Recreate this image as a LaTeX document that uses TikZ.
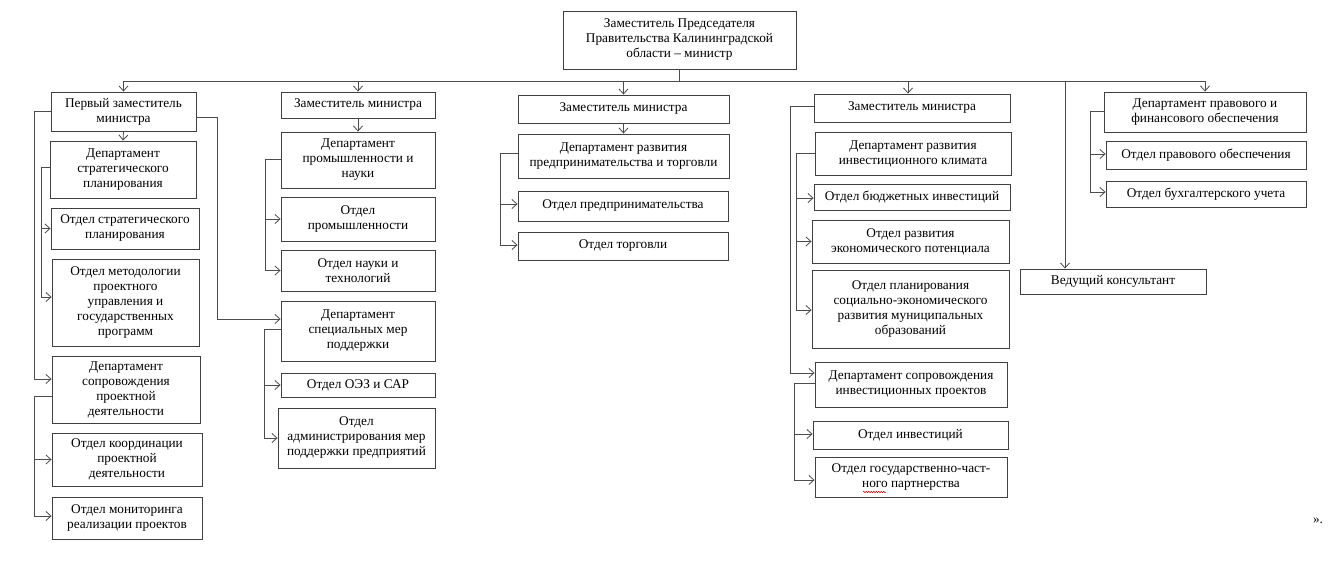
\documentclass[tikz,border=0pt]{standalone}
\usepackage{fontspec}
\setmainfont{Liberation Serif}
\usetikzlibrary{arrows.meta,calc,decorations.pathmorphing}
\newcommand\orgbox[6]{\node[bx, minimum width=#4pt, minimum height=#5pt] (#1) at (#2,#3) {#6};}
\begin{document}
\begin{tikzpicture}[x=1pt,y=-1pt,
  bx/.style={draw=black!75, line width=0.9pt, inner sep=1pt, align=center, font=\fontsize{13.3}{15}\selectfont},
  ln/.style={draw=black!70, line width=0.8pt},
  arr/.style={ln, -{Straight Barb[length=5pt,width=9pt]}}]
\useasboundingbox (0,0) rectangle (1331,579);
% top
\orgbox{top}{679.5}{40}{233}{58}{Заместитель Председателя\\Правительства Калининградской\\области – министр}
% column 1
\orgbox{pz}{123.5}{111.5}{145}{39}{Первый заместитель\\министра}
\orgbox{dsp}{123}{169.5}{146}{57}{Департамент\\стратегического\\планирования}
\orgbox{osp}{125}{228.5}{148}{41}{Отдел стратегического\\планирования}
\orgbox{omp}{125.5}{302.5}{147}{87}{Отдел методологии\\проектного\\управления и\\государственных\\программ}
\orgbox{dspd}{126}{389.5}{148}{67}{Департамент\\сопровождения\\проектной\\деятельности}
\orgbox{okpd}{127}{459.5}{150}{53}{Отдел координации\\проектной\\деятельности}
\orgbox{omrp}{127}{518}{150}{42}{Отдел мониторинга\\реализации проектов}
% column 2
\orgbox{zm2}{358}{105}{154}{26}{Заместитель министра}
\orgbox{dpn}{358}{160}{154}{56}{Департамент\\промышленности и\\науки}
\orgbox{op}{358}{219}{154}{44}{Отдел\\промышленности}
\orgbox{ont}{358}{270.5}{154}{41}{Отдел науки и\\технологий}
\orgbox{dsmp}{358}{331}{154}{60}{Департамент\\специальных мер\\поддержки}
\orgbox{ooez}{358}{385}{154}{24}{Отдел ОЭЗ и САР}
\orgbox{oamp}{356.5}{438}{157}{60}{Отдел\\администрирования мер\\поддержки предприятий}
% column 3
\orgbox{zm3}{623.5}{109}{211}{28}{Заместитель министра}
\orgbox{drpt}{623.5}{156}{211}{44}{Департамент развития\\предпринимательства и торговли}
\orgbox{opr}{623}{206}{210}{30}{Отдел предпринимательства}
\orgbox{otorg}{623}{246}{210}{28}{Отдел торговли}
% column 4
\orgbox{zm4}{912}{108}{196}{28}{Заместитель министра}
\orgbox{drik}{913}{153.5}{196}{43}{Департамент развития\\инвестиционного климата}
\orgbox{obi}{912}{197}{196}{26}{Отдел бюджетных инвестиций}
\orgbox{orep}{910.5}{241.5}{197}{43}{Отдел развития\\экономического потенциала}
\orgbox{opser}{910.5}{309}{197}{78}{Отдел планирования\\социально-экономического\\развития муниципальных\\образований}
\orgbox{dsip}{911}{384.5}{192}{45}{Департамент сопровождения\\инвестиционных проектов}
\orgbox{oinv}{910.5}{435}{195}{28}{Отдел инвестиций}
\orgbox{ogchp}{911}{477}{192}{40}{Отдел государственно-част-\\ного партнерства}
% column 5
\orgbox{vk}{1113}{281.5}{186}{25}{Ведущий консультант}
\orgbox{dpfo}{1205}{112}{202}{40}{Департамент правового и\\финансового обеспечения}
\orgbox{opo}{1206}{155}{200}{28}{Отдел правового обеспечения}
\orgbox{obu}{1206}{194}{200}{26}{Отдел бухгалтерского учета}
\node[font=\fontsize{13.3}{15}\selectfont, inner sep=0pt] (quote) at (1318,521) {».};
% spell-check squiggle
\draw[red!80!black, line width=0.5pt, decorate, decoration={snake, amplitude=0.8pt, segment length=2.5pt}]
  ($(ogchp.center)+(-48,15)$) -- ++(23,0);
% main bus
\coordinate (bus) at (0,81);
\coordinate (z4) at ($(zm4.north)+(-4,0)$);
\coordinate (vkx) at (1065,81);
\draw[ln] (top.south) -- (top.south |- bus);
\draw[ln] (pz.north |- bus) -- (dpfo.north |- bus);
\draw[arr] (pz.north |- bus) -- (pz.north);
\draw[arr] (zm2.north |- bus) -- (zm2.north);
\draw[arr] (zm3.north |- bus) -- (zm3.north);
\draw[arr] (z4 |- bus) -- (z4);
\draw[arr] (dpfo.north |- bus) -- (dpfo.north);
\draw[arr] (vkx) -- (vkx |- vk.north);
% column 1
\draw[arr] (pz.south) -- (dsp.north);
\draw[arr] (pz.west) -- ++(-16,0) |- ($(dspd.west)+(0,-10.5)$);
\draw[arr] ($(dsp.west)+(0,-2.5)$) -- ++(-8,0) |- (osp.west);
\draw[arr] ($(dsp.west)+(-8,-2.5)$) |- ($(omp.west)+(0,-5.5)$);
\draw[arr] ($(dspd.west)+(0,6.5)$) -- ++(-17,0) |- (okpd.west);
\draw[arr] ($(dspd.west)+(-17,6.5)$) |- ($(omrp.west)+(0,-2)$);
\draw[arr] ($(pz.east)+(0,5.5)$) -- ++(21,0) |- ($(dsmp.west)+(0,-12)$);
% column 2
\draw[arr] (zm2.south) -- (dpn.north);
\draw[arr] ($(dpn.west)+(0,-1)$) -- ++(-15,0) |- (op.west);
\draw[arr] ($(dpn.west)+(-15,-1)$) |- (ont.west);
\draw[arr] ($(dsmp.west)+(0,-2)$) -- ++(-16,0) |- (ooez.west);
\draw[arr] ($(dsmp.west)+(-16,-2)$) |- (oamp.west);
% column 3
\draw[arr] (zm3.south) -- (drpt.north);
\draw[arr] ($(drpt.west)+(0,-3)$) -- ++(-17,0) |- ($(opr.west)+(0,-2)$);
\draw[arr] ($(drpt.west)+(-17,-3)$) |- ($(otorg.west)+(0,-1)$);
% column 4
\draw[arr] ($(zm4.west)+(0,-2)$) -- ++(-23,0) |- ($(dsip.west)+(0,-11.5)$);
\draw[arr] (drik.west) -- ++(-18,0) |- ($(obi.west)+(0,1)$);
\draw[arr] ($(drik.west)+(-18,0)$) |- (orep.west);
\draw[arr] ($(drik.west)+(-18,0)$) |- ($(opser.west)+(0,1)$);
\draw[arr] ($(dsip.west)+(0,-1.5)$) -- ++(-20,0) |- ($(oinv.west)+(0,-1)$);
\draw[arr] ($(dsip.west)+(-20,-1.5)$) |- ($(ogchp.west)+(0,3)$);
% column 5
\draw[arr] ($(dpfo.west)+(0,-1)$) -- ++(-13,0) |- ($(opo.west)+(0,-1)$);
\draw[arr] ($(dpfo.west)+(-13,-1)$) |- ($(obu.west)+(0,-2)$);
\end{tikzpicture}
\end{document}
